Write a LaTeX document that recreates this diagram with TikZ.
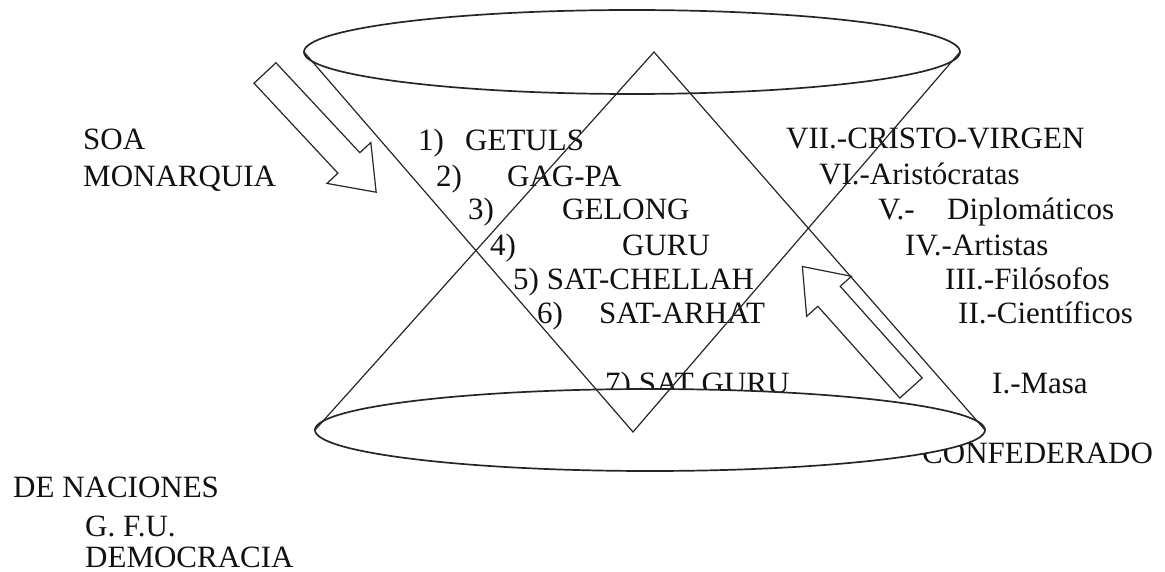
\documentclass[tikz,border=0pt]{standalone}
\usepackage{fontspec}
\setmainfont{Liberation Serif}
\usepackage{xcolor}
\definecolor{Ink}{HTML}{111111}
\definecolor{Rim}{HTML}{262626}
\usepackage{tikz}
\usetikzlibrary{shapes.geometric}
\tikzset{
  lbl/.style={anchor=base west,inner sep=0pt,text=Ink,font=\fontsize{31}{34}\selectfont},
  rim/.style={ellipse,draw=Rim,fill=white,line width=1.7pt,inner sep=0pt,outer sep=0pt},
  cone/.style={draw=Rim,line width=1.2pt},
  fat/.style={draw=Rim,fill=white,line width=1.2pt,line join=miter},
  fatarrow/.pic={\draw[fat] (0,-15) -- (123,-15) -- (123,-30) -- (163,0) -- (123,30) -- (123,15) -- (0,15) -- cycle;}
}

\begin{document}
\begin{tikzpicture}[x=1pt,y=-1pt]
\useasboundingbox (0,0) rectangle (1165,572);
% left side
\node[lbl] (soa) at (83,150) {SOA};
\node[lbl] (monarquia) at (83,187) {MONARQUIA};
\node[lbl] (naciones) at (13,497) {DE NACIONES};
\node[lbl] (gfu) at (85,536) {G. F.U.};
\node[lbl] (democracia) at (85,567) {DEMOCRACIA};
% steps in the middle
\node[lbl] (r1) at (418,151) {\makebox[47pt][l]{1)}GETULS};
\node[lbl] (r2) at (436,187) {\makebox[71pt][l]{2)}GAG-PA};
\node[lbl] (r3) at (468,220) {\makebox[94pt][l]{3)}GELONG};
\node[lbl] (r4) at (490,256) {\makebox[132pt][l]{4)}GURU};
\node[lbl] (r5) at (513,290) {5) SAT-CHELLAH};
\node[lbl] (r6) at (537,323) {\makebox[62pt][l]{6)}SAT-ARHAT};
\node[lbl] (r7) at (605,393) {7) SAT GURU};
% right side
\node[lbl] (v7) at (786,149) {VII.-CRISTO-VIRGEN};
\node[lbl] (v6) at (819,185) {VI.-Aristócratas};
\node[lbl] (v5) at (878,220) {\makebox[69pt][l]{V.-}Diplomáticos};
\node[lbl] (v4) at (905,256) {IV.-Artistas};
\node[lbl] (v3) at (945,290) {III.-Filósofos};
\node[lbl] (v2) at (958,323) {II.-Científicos};
\node[lbl] (v1) at (992,393) {I.-Masa};
\node[lbl] (confederado) at (922,463) {CONFEDERADO};
% the two rims
\node[rim,minimum width=656pt,minimum height=84pt] (upper) at (632,52) {};
\node[rim,minimum width=670pt,minimum height=82pt] (lower) at (650,430) {};
\coordinate (apex) at (654,52);
\coordinate (nadir) at (633,432);
\draw[cone] (upper.west) -- (nadir) -- (upper.east);
\draw[cone] (lower.west) -- (apex) -- (lower.east);
% block arrows
\pic[rotate=-47] (inflow) at (265,73) {fatarrow};
\pic[rotate=131.8] (outflow) at (911,388) {fatarrow};
\end{tikzpicture}
\end{document}
